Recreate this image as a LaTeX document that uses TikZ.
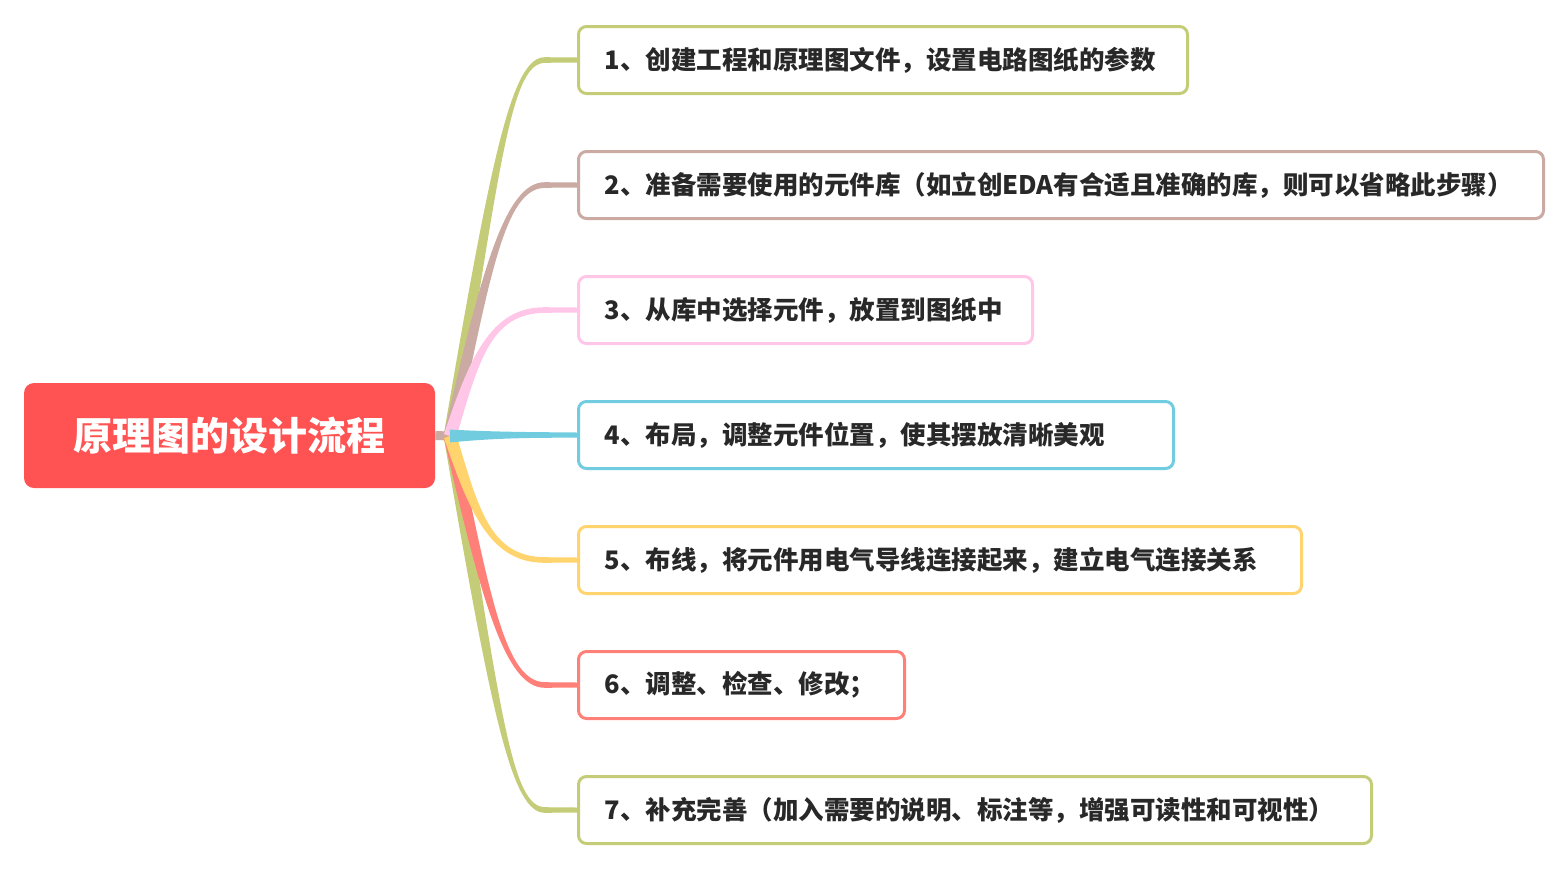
\documentclass[tikz,border=0pt]{standalone}
\usepackage{fontspec}
\newfontfamily\cjk{Noto Sans CJK SC}
\usetikzlibrary{calc}

\definecolor{rootred}{RGB}{255,82,82}
\definecolor{olive}{RGB}{197,204,120}
\definecolor{rosy}{RGB}{202,170,162}
\definecolor{pinky}{RGB}{255,198,232}
\definecolor{skyblue}{RGB}{114,204,224}
\definecolor{sunny}{RGB}{255,212,110}
\definecolor{salmon}{RGB}{255,128,120}
\definecolor{ink}{RGB}{40,40,40}

\tikzset{
	root/.style={fill=rootred, text=white, rounded corners=5pt, minimum width=205.5pt, minimum height=52.5pt, font=\cjk\bfseries\fontsize{19.5}{22}\selectfont},
	stepbox/.style={draw=#1, fill=white, line width=1.5pt, rounded corners=4pt, anchor=west, minimum height=33.5pt, inner xsep=13pt, align=left, text=ink, font=\cjk\bfseries\fontsize{12.75}{15}\selectfont},
}

% tapered branch: colour, box, corner offset, pull
\newcommand{\branch}[4]{%
	\path ($(#2.west)+(#3,0)$) coordinate (k-#2)
		($(#2.west)+(-16pt,0)$) coordinate (e-#2)
		($(hub)!#4!(k-#2)$) coordinate (c-#2);
	\fill[#1] ($(hub)!3.2pt!90:(c-#2)$) .. controls ($(c-#2)!2.4pt!-90:(hub)$) and ($(k-#2)+(0,1.6pt)$) .. ($(e-#2)+(0,1.4pt)$)
		-- ($(#2.west)+(0,1.25pt)$) -- ($(#2.west)+(0,-1.25pt)$) -- ($(e-#2)+(0,-1.4pt)$)
		.. controls ($(k-#2)+(0,-1.6pt)$) and ($(c-#2)!2.4pt!90:(hub)$) .. ($(hub)!3.2pt!-90:(c-#2)$) -- cycle;
}

\begin{document}
\begin{tikzpicture}[x=0.5pt,y=-0.5pt]
	\useasboundingbox (0,0) rectangle (1568,869);

	\node[root] (root) at (229.5,435.5) {原理图的设计流程};
	\coordinate (hub) at (450,436);

	\node[stepbox=olive, text width=278.5pt] (s1) at (577,60) {1、创建工程和原理图文件，设置电路图纸的参数};
	\node[stepbox=rosy, text width=456.5pt] (s2) at (577,185) {2、准备需要使用的元件库（如立创EDA有合适且准确的库，则可以省略此步骤）};
	\node[stepbox=pinky, text width=201pt] (s3) at (577,310) {3、从库中选择元件，放置到图纸中};
	\node[stepbox=skyblue, text width=271.5pt] (s4) at (577,435) {4、布局，调整元件位置，使其摆放清晰美观};
	\node[stepbox=sunny, text width=335.5pt] (s5) at (577,560) {5、布线，将元件用电气导线连接起来，建立电气连接关系};
	\node[stepbox=salmon, text width=137pt] (s6) at (577,685) {6、调整、检查、修改；};
	\node[stepbox=olive, text width=370.5pt] (s7) at (577,810) {7、补充完善（加入需要的说明、标注等，增强可读性和可视性）};

	\draw[rosy, line width=4.5pt] (root.east) -- (hub);

	\branch{olive}{s7}{-32.5pt}{0.75}
	\branch{salmon}{s6}{-36pt}{0.65}
	\branch{sunny}{s5}{-43.5pt}{0.6}
	\branch{olive}{s1}{-32.5pt}{0.75}
	\branch{rosy}{s2}{-36pt}{0.65}
	\branch{pinky}{s3}{-43.5pt}{0.6}
	\branch{skyblue}{s4}{-40pt}{0.5}
\end{tikzpicture}
\end{document}
